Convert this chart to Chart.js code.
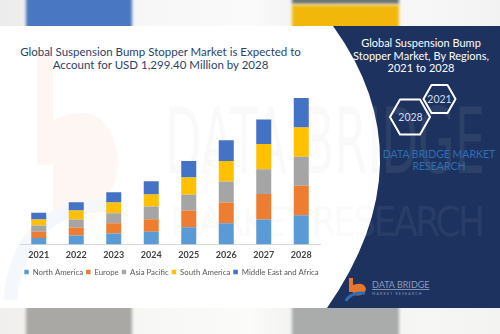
<!DOCTYPE html>
<html>
<head>
<meta charset="utf-8">
<script src="https://cdn.jsdelivr.net/npm/chart.js@4.4.1/dist/chart.umd.min.js"></script>
<style>
  body { margin: 0; }
  #page { position: relative; width: 500px; height: 334px; overflow: hidden; background: #fff; font-family: Lato, sans-serif; }
  .strip { position: absolute; left: 0; width: 500px; height: 26px; overflow: hidden; }
  .blk { position: absolute; filter: blur(1.5px); }
  #title { position: absolute; left: 0; top: 46px; width: 321px; text-align: center; color: #2b3f6b; font-size: 11.5px; line-height: 12.5px; }
  #wrap { position: absolute; left: -25px; top: 26px; width: 393px; height: 282px; }
</style>
</head>
<body>
<div id="page">
  <div class="strip" style="top:0;background:linear-gradient(90deg,#ececec,#f7f7f7 30%,#fafafa 50%,#f3f3f3 60%,#f7f7f7 85%,#f2f2f2)">
    <div class="blk" style="left:26px;top:-4px;width:106px;height:34px;background:#4a77c2"></div>
    <div class="blk" style="left:292px;top:-4px;width:107px;height:8px;background:#6d7572"></div>
    <div class="blk" style="left:292px;top:5px;width:107px;height:25px;background:#f1b70b"></div>
  </div>
  <div class="strip" style="top:308px;background:linear-gradient(90deg,#f0efed,#f7f7f5 30%,#fbfbf9 50%,#f1f1ef 60%,#f6f6f4 85%,#f3f3f1)">
    <div class="blk" style="left:26px;top:-4px;width:106px;height:34px;background:#a9a8a4"></div>
    <div class="blk" style="left:292px;top:-4px;width:107px;height:34px;background:#a9acaa"></div>
  </div>

  <svg width="500" height="334" style="position:absolute;left:0;top:0">
    <!-- faint logo / watermark behind the chart -->
    <g opacity="0.06">
      <rect x="37" y="55" width="16" height="110" fill="#ed7d31"/>
      <path d="M53,120 Q110,95 118,160 Q118,215 53,212 Z" fill="#ed7d31"/>
      <path d="M10,300 Q20,200 120,205" stroke="#5b9bd5" stroke-width="14" fill="none"/>
    </g>
    <path d="M333,26 Q430,160 327,308 L500,308 L500,26 Z" fill="#1d325f"/>
    <text x="165" y="173" font-family="DejaVu Sans Condensed, sans-serif" font-size="90" font-weight="200" fill="#c8c8c8" opacity="0.09" textLength="320" lengthAdjust="spacingAndGlyphs">DATA BRIDGE</text>
    <text x="170" y="236" font-family="DejaVu Sans Condensed, sans-serif" font-size="40" fill="#c8c8c8" opacity="0.07" textLength="315" lengthAdjust="spacing">MARKET RESEARCH</text>
    <g font-family="Lato, sans-serif" fill="#ffffff" font-size="11" text-anchor="middle">
      <text x="421" y="47">Global Suspension Bump</text>
      <text x="421" y="59.5">Stopper Market, By Regions,</text>
      <text x="421" y="72">2021 to 2028</text>
    </g>
    <polygon points="390,117 400,99.5 420,99.5 430,117 420,134.5 400,134.5" fill="none" stroke="#ffffff" stroke-width="2" stroke-linejoin="round"/>
    <polygon points="423.5,99 431.5,85 447.5,85 455.5,99 447.5,113 431.5,113" fill="none" stroke="#ffffff" stroke-width="2" stroke-linejoin="round"/>
    <g font-family="Lato, sans-serif" fill="#d4def0" font-size="10.5" text-anchor="middle">
      <text x="410.5" y="121">2028</text>
      <text x="439.5" y="103">2021</text>
    </g>
    <g font-family="Lato, sans-serif" fill="#2e6fb5" font-size="10.5" text-anchor="middle">
      <text x="439" y="157.5">DATA BRIDGE MARKET</text>
      <text x="439" y="170">RESEARCH</text>
    </g>
    <!-- small logo -->
    <rect x="349" y="278" width="4" height="14" fill="#e8762d"/>
    <path d="M353,285 Q364,281 366,289 Q365,297 353,295 Z" fill="#e8762d"/>
    <path d="M346,301 Q350,292 365,293" stroke="#2f6db0" stroke-width="3" fill="none"/>
    <text x="372" y="288" font-family="Lato, sans-serif" font-size="9" fill="#8a9cbc" text-decoration="underline">DATA BRIDGE</text>
    <text x="372" y="295" font-family="Lato, sans-serif" font-size="3.5" fill="#8a9cbc" letter-spacing="1.2">MARKET RESEARCH</text>
  </svg>

  <div id="title">Global Suspension Bump Stopper Market is Expected to<br>Account for USD 1,299.40 Million by 2028</div>
  <div id="wrap"><canvas id="chart" width="393" height="282"></canvas></div>
</div>
<script>
const years = ['2021', '2022', '2023', '2024', '2025', '2026', '2027', '2028'];
const northAmerica = [56, 79, 97, 112, 153, 188, 221, 259];
const europe = [56, 71, 91, 112, 147, 185, 226, 261];
const asiaPacific = [56, 71, 88, 112, 141, 185, 221, 259];
const southAmerica = [53, 79, 97, 106, 153, 182, 223, 259];
const middleEastAfrica = [59, 74, 91, 118, 147, 185, 218, 261.4];

const ctx = document.getElementById('chart').getContext('2d');

function series(label, data, color) {
  return { label: label, data: data, backgroundColor: color, borderWidth: 0 };
}

// empty side axes, only there to keep the plot inside x 20..320 of the page
function spacer(pos, w) {
  return {
    position: pos,
    display: true,
    grid: { display: false },
    border: { display: false },
    ticks: { display: false },
    afterFit: (s) => { s.width = w; }
  };
}

new Chart(ctx, {
  type: 'bar',
  data: {
    labels: years,
    datasets: [
      series('North America', northAmerica, '#5b9bd5'),
      series('Europe', europe, '#ed7d31'),
      series('Asia Pacific', asiaPacific, '#a5a5a5'),
      series('South America', southAmerica, '#ffc000'),
      series('Middle East and Africa', middleEastAfrica, '#4472c4')
    ]
  },
  options: {
    responsive: false,
    animation: false,
    layout: { padding: { left: 0, right: 0, top: 72, bottom: 22 } },
    datasets: { bar: { categoryPercentage: 1, barPercentage: 0.4 } },
    plugins: {
      tooltip: { enabled: false },
      legend: {
        position: 'bottom',
        labels: {
          boxWidth: 4.5, boxHeight: 4.5, padding: 3,
          color: '#595959',
          font: { family: 'Lato', size: 7.8 }
        }
      }
    },
    scales: {
      x: {
        stacked: true,
        grid: { display: false, drawTicks: false },
        border: { display: true, color: '#d9d9d9', width: 1 },
        ticks: { color: '#404040', padding: 5, font: { family: 'Lato', size: 9, weight: 'bold' } }
      },
      y: Object.assign(spacer('left', 45), { stacked: true, min: 0, max: 1300 }),
      yRight: spacer('right', 48)
    }
  }
});
</script>
</body>
</html>
